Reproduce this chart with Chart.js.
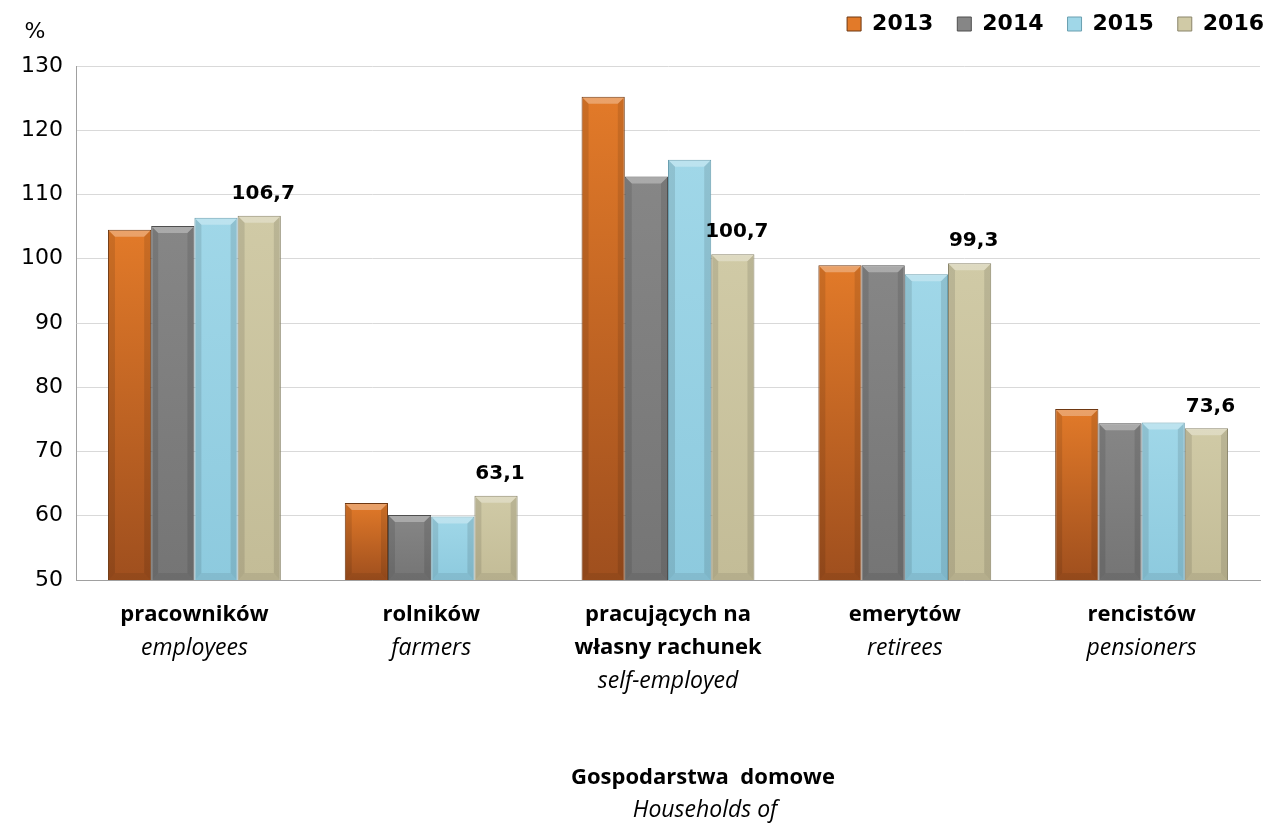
<!DOCTYPE html>
<html>
<head>
<meta charset="utf-8">
<script src="https://cdn.jsdelivr.net/npm/chart.js@4/dist/chart.umd.min.js"></script>
<style>
    html, body { margin: 0; padding: 0; background: #fff; }
    #wrap { width: 1274px; height: 823px; position: relative; }
</style>
</head>
<body>
<div id="wrap"><canvas id="myChart"></canvas></div>
<script>
// Dados do gráfico
const categoriasPl = [['pracowników'], ['rolników'], ['pracujących na', 'własny rachunek'], ['emerytów'], ['rencistów']];
const categoriasEn = ['employees', 'farmers', 'self-employed', 'retirees', 'pensioners'];
const anos = ['2013', '2014', '2015', '2016'];
const v2013 = [104.5, 62.0, 125.2, 99.0, 76.6];
const v2014 = [105.1, 60.1, 112.8, 99.0, 74.4];
const v2015 = [106.4, 59.9, 115.4, 97.6, 74.5];
const v2016 = [106.7, 63.1, 100.7, 99.3, 73.6];
const yMin = 50, yMax = 130, yStep = 10;

const coresTopo = ['#e27a29', '#868686', '#a0d7e8', '#d0caa6'];
const coresBase = ['#9f4f1e', '#757575', '#8dcade', '#c3bc97'];
const coresBorda = ['#6e3812', '#4f4f4f', '#6a9fb0', '#8a856a'];

function gradiente(context, i) {
    const chart = context.chart;
    if (!chart.chartArea || context.raw === undefined) return coresTopo[i];
    const topo = chart.scales.y.getPixelForValue(context.raw);
    const g = chart.ctx.createLinearGradient(0, topo, 0, chart.chartArea.bottom);
    g.addColorStop(0, coresTopo[i]);
    g.addColorStop(1, coresBase[i]);
    return g;
}

const fmt = (v) => v.toFixed(1).replace('.', ',');

// efeito de relevo nas barras
function relevo(ctx, bar, b) {
    const l = bar.x - bar.width / 2, r = bar.x + bar.width / 2;
    const t = bar.y, e = 7;
    ctx.fillStyle = 'rgba(255,255,255,0.30)';
    ctx.beginPath();
    ctx.moveTo(l + 1, t + 1); ctx.lineTo(r - 1, t + 1);
    ctx.lineTo(r - e, t + e); ctx.lineTo(l + e, t + e);
    ctx.closePath(); ctx.fill();
    ctx.fillStyle = 'rgba(0,0,0,0.10)';
    ctx.beginPath();
    ctx.moveTo(l + 1, t + 1); ctx.lineTo(l + e, t + e);
    ctx.lineTo(l + e, b - e); ctx.lineTo(l + 1, b);
    ctx.closePath(); ctx.fill();
    ctx.beginPath();
    ctx.moveTo(r - 1, t + 1); ctx.lineTo(r - e, t + e);
    ctx.lineTo(r - e, b - e); ctx.lineTo(r - 1, b);
    ctx.closePath(); ctx.fill();
    ctx.fillStyle = 'rgba(0,0,0,0.07)';
    ctx.beginPath();
    ctx.moveTo(l + 1, b); ctx.lineTo(l + e, b - e);
    ctx.lineTo(r - e, b - e); ctx.lineTo(r - 1, b);
    ctx.closePath(); ctx.fill();
}

const textos = {
    id: 'textos',
    afterInit(chart) {
        const legend = chart.legend;
        const fit = legend.fit;
        legend.fit = function () {
            fit.call(this);
            this.height += 10;
        };
        const draw = legend.draw;
        legend.draw = function () {
            const c = this.ctx;
            c.save();
            c.translate(28, -11);
            draw.call(this);
            c.restore();
        };
    },
    afterDatasetsDraw(chart) {
        const ctx = chart.ctx;
        const fundo = chart.chartArea.bottom;
        ctx.save();
        chart.data.datasets.forEach((ds, d) => {
            chart.getDatasetMeta(d).data.forEach((bar) => relevo(ctx, bar, fundo));
        });
        ctx.fillStyle = '#000';
        ctx.textAlign = 'center';
        ctx.textBaseline = 'middle';
        ctx.font = 'bold 20px "DejaVu Sans"';
        chart.getDatasetMeta(3).data.forEach((bar, i) => {
            ctx.fillText(fmt(v2016[i]), bar.x + 4, bar.y - 22);
        });
        ctx.restore();
    },
    afterDraw(chart) {
        const ctx = chart.ctx;
        const x = chart.scales.x;
        const base = chart.chartArea.bottom;
        ctx.save();
        ctx.fillStyle = '#000';
        ctx.textAlign = 'center';
        ctx.textBaseline = 'middle';
        ctx.font = '22px "DejaVu Sans"';
        ctx.fillText('%', 35, 32);
        categoriasPl.forEach((linhas, i) => {
            const cx = x.getPixelForValue(i);
            let y = base + 35;
            ctx.font = 'bold 22px "Open Sans"';
            linhas.forEach((l) => {
                ctx.fillText(l, cx, y);
                y += 33;
            });
            ctx.font = 'italic 23px "Open Sans"';
            ctx.fillText(categoriasEn[i], cx, y);
        });
        ctx.font = 'bold 22px "Open Sans"';
        ctx.fillText('Gospodarstwa  domowe', 703, 778);
        ctx.font = 'italic 23px "Open Sans"';
        ctx.fillText('Households of', 705, 810);
        ctx.restore();
    }
};

const ctx = document.getElementById('myChart').getContext('2d');
const series = [v2013, v2014, v2015, v2016];

const myChart = new Chart(ctx, {
    type: 'bar',
    data: {
        labels: categoriasEn,
        datasets: series.map((dados, i) => ({
            label: anos[i],
            data: dados,
            backgroundColor: (c) => gradiente(c, i),
            borderColor: coresBorda[i],
            borderWidth: 1,
            categoryPercentage: 0.73,
            barPercentage: 1
        }))
    },
    options: {
        responsive: true,
        maintainAspectRatio: false,
        animation: false,
        layout: { padding: { left: 0, right: 14, top: 0, bottom: 0 } },
        plugins: {
            tooltip: { enabled: false },
            legend: {
                position: 'top',
                align: 'end',
                labels: {
                    color: '#000',
                    font: { family: 'DejaVu Sans', size: 22, weight: 'bold' },
                    boxWidth: 14,
                    boxHeight: 14,
                    padding: 24,
                    generateLabels: (chart) => chart.data.datasets.map((ds, i) => ({
                        text: ds.label,
                        fillStyle: coresTopo[i],
                        strokeStyle: coresBorda[i],
                        lineWidth: 1,
                        hidden: false,
                        datasetIndex: i,
                        fontColor: '#000'
                    }))
                }
            }
        },
        scales: {
            x: {
                grid: { display: false },
                border: { color: '#a0a0a0' },
                ticks: { display: false },
                afterFit: (s) => { s.height = 243; }
            },
            y: {
                min: yMin,
                max: yMax,
                ticks: {
                    stepSize: yStep,
                    color: '#000',
                    padding: 13,
                    font: { family: 'DejaVu Sans', size: 22 }
                },
                grid: { color: '#d9d9d9', drawTicks: false },
                border: { color: '#a0a0a0' },
                afterFit: (s) => { s.width = 76; }
            }
        }
    },
    plugins: [textos]
});
</script>
</body>
</html>
